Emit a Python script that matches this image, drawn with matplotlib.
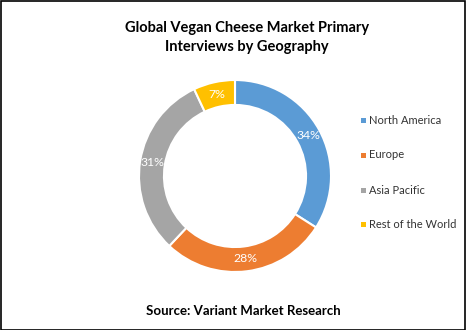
import matplotlib
matplotlib.use("Agg")
import matplotlib.pyplot as plt
from matplotlib.patches import Rectangle

plt.rcParams['font.family'] = ['Lato', 'DejaVu Sans']

categories = ["North America", "Europe", "Asia Pacific", "Rest of the World"]
values = [34, 28, 31, 7]
colors = ["#5B9BD5", "#ED7D31", "#A5A5A5", "#FFC000"]

W, H = 466, 330
fig = plt.figure(figsize=(W / 100, H / 100), dpi=100)

cx, cy, r = 235, 176, 96
ax = fig.add_axes([(cx - r) / W, (H - cy - r) / H, 2 * r / W, 2 * r / H])
wedges, texts, autotexts = ax.pie(
    values, colors=colors, startangle=90, counterclock=False,
    radius=1.0, wedgeprops=dict(width=0.26, edgecolor="white", linewidth=1.5),
    autopct=lambda p: f"{p:.0f}%", pctdistance=0.87,
    textprops=dict(color="white", fontsize=8.8))
ax.set_xlim(-1, 1)
ax.set_ylim(-1, 1)
ax.set_aspect("equal")
ax.axis("off")

fig.text(247 / W, 1 - 28 / H, "Global Vegan Cheese Market Primary", ha="center", va="center",
         fontsize=10.5, fontweight="bold")
fig.text(247 / W, 1 - 47 / H, "Interviews by Geography", ha="center", va="center",
         fontsize=10.5, fontweight="bold")

leg_y = [120, 155, 190, 224]
for cat, col, y in zip(categories, colors, leg_y):
    fig.patches.append(Rectangle(((361) / W, 1 - (y + 2.5) / H), 5 / W, 5 / H,
                                 transform=fig.transFigure, facecolor=col, edgecolor="none"))
    fig.text(369 / W, 1 - y / H, cat, ha="left", va="center", fontsize=8, color="#333333")

fig.text(243 / W, 1 - 311 / H, "Source: Variant Market Research", ha="center", va="center",
         fontsize=9.5, fontweight="bold")

fig.patches.append(Rectangle((0.5 / W, 0.5 / H), 1 - 1.5 / W, 1 - 1.5 / H, transform=fig.transFigure,
                             facecolor="none", edgecolor="black", linewidth=1.2))

fig.savefig("out.png", dpi=100)
